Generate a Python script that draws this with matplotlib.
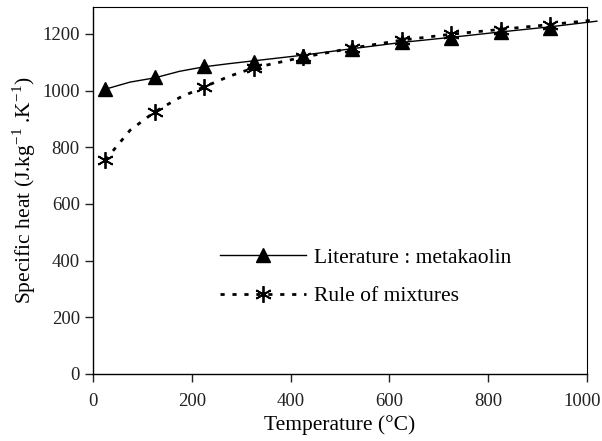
import matplotlib
matplotlib.use("Agg")
import matplotlib.pyplot as plt
from matplotlib.transforms import ScaledTranslation

plt.rcParams['font.family'] = ['Liberation Serif', 'DejaVu Serif']

temps = [25, 125, 225, 325, 425, 525, 625, 725, 825, 925]
literature = [1005, 1048, 1086, 1102, 1122, 1147, 1170, 1187, 1207, 1222]
mixtures = [755, 925, 1013, 1080, 1120, 1150, 1180, 1200, 1215, 1230]

# trend curves (extend slightly beyond the last point)
curve_x = [25, 75, 125, 175, 225, 275, 325, 425, 525, 625, 725, 825, 925, 1020]
lit_curve = [1005, 1030, 1045, 1068, 1084, 1095, 1105, 1125, 1148, 1170, 1188, 1207, 1225, 1245]
mix_curve = [755, 860, 925, 975, 1013, 1050, 1080, 1118, 1150, 1178, 1199, 1216, 1233, 1250]

label_lit = "Literature : metakaolin"
label_mix = "Rule of mixtures"

DASH = (0, (1.5, 2.8))

fig = plt.figure(figsize=(6.02, 4.41), dpi=100)
ax = fig.add_axes([93/602, 1 - 374/441, (587-93)/602, (374-7)/441])

ax.plot(curve_x, lit_curve, color='black', lw=1.0, clip_on=False)
ax.plot(curve_x, mix_curve, color='black', lw=2.0, ls=DASH, clip_on=False)
ax.plot(temps, literature, ls='none', marker='^', ms=10, color='black', clip_on=False)
ax.plot(temps, mixtures, ls='none', marker=(6, 2, 0), ms=12, mew=1.3, color='black', clip_on=False)

# legend handles
h1, = ax.plot([], [], color='black', lw=1.0, marker='^', ms=10)
h2, = ax.plot([], [], color='black', lw=2.0, ls=DASH, marker=(6, 2, 0), ms=12, mew=1.3)
leg = ax.legend([h1, h2], [label_lit, label_mix], loc='center left',
                bbox_to_anchor=(0.257, 0.264), frameon=False, fontsize=15.5,
                handlelength=4.0, handletextpad=0.37, labelspacing=0.86,
                borderpad=0, borderaxespad=0)

ax.set_xlim(0, 1000)
ax.set_ylim(0, 1295)
ax.set_xticks([0, 200, 400, 600, 800, 1000])
ax.set_yticks([0, 200, 400, 600, 800, 1000, 1200])
ax.tick_params(direction='out', length=6, width=1, labelsize=13.5, colors='#222222')
ax.tick_params(axis='x', pad=8)
for s in ['top', 'right']:
    ax.spines[s].set_linewidth(0.8)
for s in ['left', 'bottom']:
    ax.spines[s].set_linewidth(1.0)

# nudge the last x tick label so it stays inside the figure
last = ax.get_xticklabels()[-1]
last.set_transform(last.get_transform() + ScaledTranslation(-5/100, 0, fig.dpi_scale_trans))

ax.set_xlabel("Temperature (°C)", fontsize=15.5, labelpad=3)
ax.set_ylabel(r"Specific heat (J.kg$^{\mathregular{-1}}$ .K$^{\mathregular{-1}}$)",
              fontsize=15.5, labelpad=3)

fig.savefig("out.png", dpi=100)
